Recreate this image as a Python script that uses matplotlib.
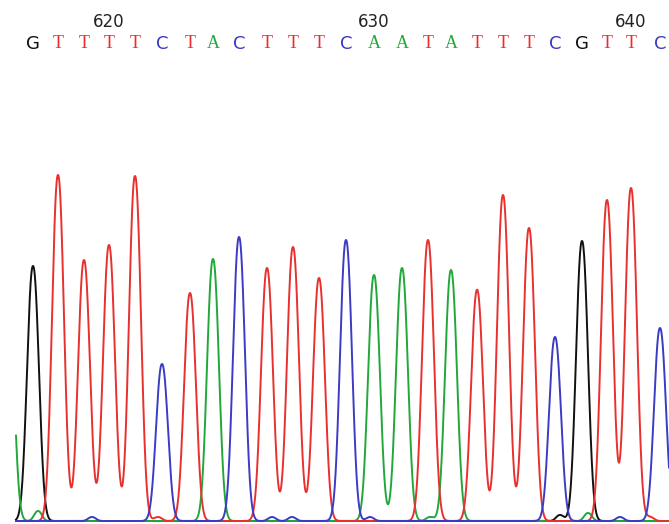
import numpy as np
import matplotlib.pyplot as plt

# called bases, peak positions (scan units) and peak heights
bases = list("GTTTTCTACTTTCAATATTTCGTTC")
peak_pos = [33, 58, 84, 109, 135, 162, 190, 213, 239, 267, 293, 319, 346,
            374, 402, 428, 451, 477, 503, 529, 555, 582, 607, 631, 660]
peak_height = [255, 346, 261, 276, 345, 157, 228, 262, 284, 253, 274, 243, 281,
               246, 253, 281, 251, 229, 326, 293, 184, 280, 321, 333, 193]
numbered = {3: "620", 13: "630", 23: "640"}

# leading green peak off the left edge plus small baseline noise
extra_base = ["A", "A", "C", "C", "C", "T", "C", "A", "G", "A", "C", "T", "T"]
extra_pos = [8, 38, 92, 272, 292, 158, 370, 430, 560, 588, 620, 650, 480]
extra_height = [230, 10, 4, 4, 4, 4, 4, 4, 6, 8, 4, 4, 3]

colors = {"A": "#22a83a", "C": "#3b3bc4", "G": "#111111", "T": "#e8312e"}
hwhm = 6.8


def peak(x, p, h, a):
    return h * np.exp(-np.log(2) * np.abs((x - p) / a) ** 2.2)


fig = plt.figure(figsize=(6.69, 5.24), dpi=100)
ax = fig.add_axes([0, 0, 1, 1])

x = np.linspace(16, 669, 3000)
for b in "GATC":
    y = np.zeros_like(x)
    for bb, p, h in zip(bases + extra_base, peak_pos + extra_pos,
                        peak_height + extra_height):
        if bb == b:
            y += peak(x, p, h, hwhm if h > 20 else 4.5)
    ax.plot(x, y, color=colors[b], lw=1.4)

for i, (b, p) in enumerate(zip(bases, peak_pos)):
    ax.text(p, 477, b, color=colors[b], ha="center", va="center",
            fontsize=13, family="Liberation Serif" if b in "TA" else "DejaVu Sans")
    if i in numbered:
        ax.text(p, 499, numbered[i], color="#222222", ha="center", va="center",
                fontsize=12, family="DejaVu Sans")

ax.set_xlim(0, 669)
ax.set_ylim(-3, 521)
ax.axis("off")
fig.savefig("out.png", dpi=100)
